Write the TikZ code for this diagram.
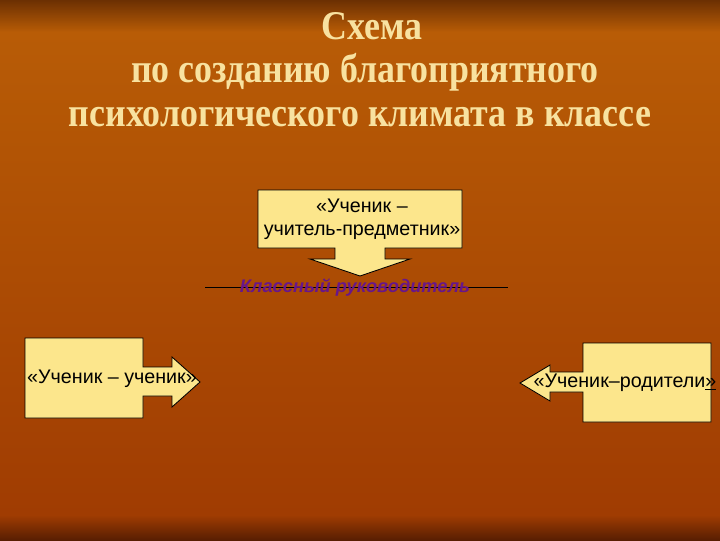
\documentclass[tikz,border=0pt]{standalone}
\usepackage{fontspec}
\setmainfont{Liberation Serif}
\setsansfont{Liberation Sans}
\newfontfamily\titlefont[FakeStretch=0.88]{Liberation Serif}
\usepackage{tikz}
\usetikzlibrary{positioning}
\definecolor{bgdark}{RGB}{108,48,2}
\definecolor{bgmid}{RGB}{184,92,6}
\definecolor{bglow}{RGB}{160,60,2}
\definecolor{bgfoot}{RGB}{88,30,2}
\definecolor{titlecol}{RGB}{248,226,160}
\definecolor{boxfill}{RGB}{252,230,140}
\definecolor{purpletext}{RGB}{104,22,138}
\tikzset{
  callout/.style={draw=black, fill=boxfill, line width=0.6pt, line join=miter},
  boxtext/.style={font=\sffamily\fontsize{14}{16.5}\selectfont, text=black, align=center, inner sep=0pt},
  titletext/.style={font=\titlefont\bfseries\fontsize{29}{33}\selectfont, text=titlecol, inner sep=0pt}
}

\begin{document}
\begin{tikzpicture}[x=0.025cm, y=-0.025cm]
	% background
	\useasboundingbox (0,0) rectangle (720,540);
	\shade[top color=bgdark, bottom color=bgmid] (0,0) rectangle (720,32);
	\shade[top color=bgmid, bottom color=bglow] (0,32) rectangle (720,515);
	\shade[top color=bglow, bottom color=bgfoot] (0,515) rectangle (720,540);
	% title
	\node[titletext] (title1) at (372,26) {Схема};
	\node[titletext] (title2) at (365,72) {по созданию благоприятного};
	\node[titletext] (title3) at (360,117) {психологического климата в классе};
	% top callout
	\draw[callout] (258,190) -- (462,190) -- (462,248) -- (385,248) -- (385,259)
		-- (410,259) -- (360,276) -- (310,259) -- (335,259) -- (335,248) -- (258,248) -- cycle;
	\node[boxtext] (subject) at (362,219) {«Ученик –\\учитель-предметник»};
	% class teacher
	\draw[line width=0.6pt] (205,287) -- (508,287);
	\node[font=\sffamily\bfseries\itshape\fontsize{13}{15}\selectfont, text=purpletext, inner sep=0pt] (teacher) at (355,288) {Классный руководитель};
	% left callout
	\draw[callout] (25,338) -- (143,338) -- (143,367) -- (172,367) -- (172,357) -- (200,382)
		-- (172,407) -- (172,396) -- (143,396) -- (143,418) -- (25,418) -- cycle;
	\node[boxtext] (pupils) at (112,379) {«Ученик – ученик»};
	% right callout
	\draw[callout] (583,343) -- (711,343) -- (711,422) -- (583,422) -- (583,392) -- (550,392)
		-- (550,401) -- (520,383) -- (550,365) -- (550,372) -- (583,372) -- cycle;
	\node[boxtext] (parents) at (625,383) {«Ученик–родители\underline{»}};
\end{tikzpicture}
\end{document}
